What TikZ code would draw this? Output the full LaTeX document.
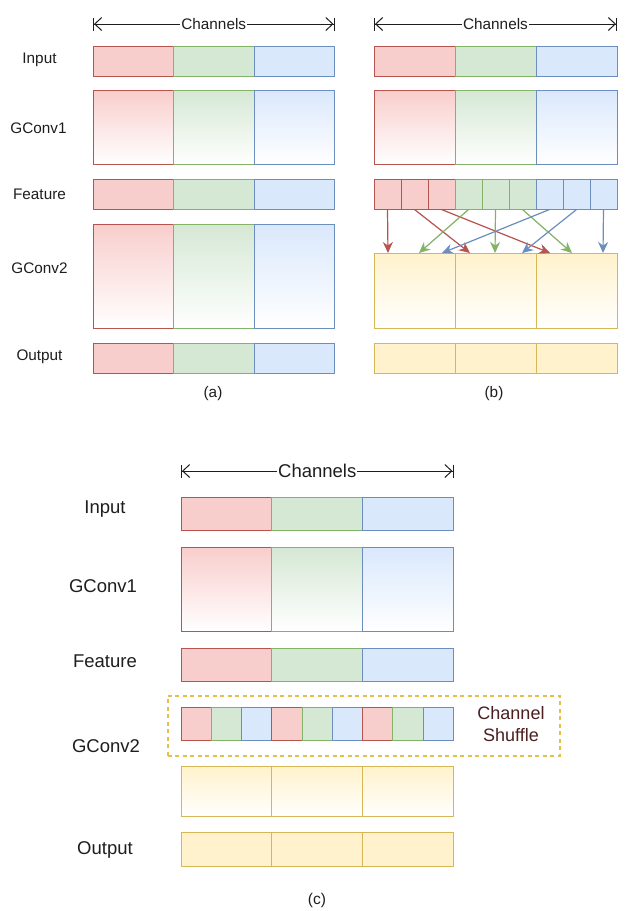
\documentclass[tikz,border=0pt]{standalone}
\usepackage{fontspec}
\setmainfont{Liberation Sans}
\usetikzlibrary{arrows.meta}
\definecolor{rF}{HTML}{F8CECC}\definecolor{rS}{HTML}{B85450}
\definecolor{gF}{HTML}{D5E8D4}\definecolor{gS}{HTML}{82B366}
\definecolor{bF}{HTML}{DAE8FC}\definecolor{bS}{HTML}{6C8EBF}
\definecolor{yF}{HTML}{FFF2CC}\definecolor{yS}{HTML}{D6B656}
\definecolor{yD}{HTML}{E4BF4A}
\definecolor{txt}{HTML}{1E1E1E}
\definecolor{shuf}{HTML}{4A1F1F}
\tikzset{
  cell/.style={draw, line width=1pt, anchor=north west, inner sep=0pt, outer sep=0pt},
  sol/.style={cell, draw=#1S, fill=#1F},
  grad/.style={cell, draw=#1S, top color=#1F, bottom color=white},
  lab/.style={font=\fontsize{15.3}{18}\selectfont, text=txt},
  labc/.style={font=\fontsize{18.5}{21}\selectfont, text=txt},
  chan/.style={line width=1pt, draw=txt,
    {Bar[width=13pt]Straight Barb[length=7pt,width=13pt]}-{Straight Barb[length=7pt,width=13pt]Bar[width=13pt]}},
  sh/.style={line width=1.2pt, draw=#1, -{Stealth[length=11pt,width=10pt]}, fill=#1},
  chanlabel/.style={fill=white, inner sep=1pt},
  shufbox/.style={draw=yD, line width=1.5pt, dash pattern=on 4pt off 3.5pt, anchor=north west, inner sep=0pt},
}
\begin{document}
\begin{tikzpicture}[x=1pt,y=-1pt]
\path[fill=white] (0,0) rectangle (626,911);
\useasboundingbox (0,0) rectangle (626,911);

% ---------------- (a) ----------------
\coordinate (aCL) at (93,24);
\coordinate (aCR) at (334.5,24);
\draw[chan] (aCL) -- (aCR) node[midway, chanlabel, lab] {Channels};
\foreach \c [count=\i from 0] in {r,g,b} {
  \node[sol=\c, minimum width=80.5, minimum height=30] (aIn\c) at (93+\i*80.5, 46) {};
  \node[grad=\c, minimum width=80.5, minimum height=74] (aG1\c) at (93+\i*80.5, 90.5) {};
  \node[sol=\c, minimum width=80.5, minimum height=30] (aFe\c) at (93+\i*80.5, 179.5) {};
  \node[grad=\c, minimum width=80.5, minimum height=104] (aG2\c) at (93+\i*80.5, 224) {};
  \node[sol=\c, minimum width=80.5, minimum height=30] (aOu\c) at (93+\i*80.5, 343) {};
}
\node[lab] (aLin) at (39.5,60) {Input};
\node[lab] (aLg1) at (38.5,128) {GConv1};
\node[lab] (aLfe) at (39.5,194) {Feature};
\node[lab] (aLg2) at (39.5,268) {GConv2};
\node[lab] (aLou) at (39.5,357) {Output};
\node[lab] (aCap) at (213,394) {(a)};

% ---------------- (b) ----------------
\coordinate (bCL) at (374,24);
\coordinate (bCR) at (617,24);
\draw[chan] (bCL) -- (bCR) node[midway, chanlabel, lab] {Channels};
\foreach \c [count=\i from 0] in {r,g,b} {
  \node[sol=\c, minimum width=81, minimum height=30] (bIn\c) at (374+\i*81, 46) {};
  \node[grad=\c, minimum width=81, minimum height=74] (bG1\c) at (374+\i*81, 90.5) {};
  \node[grad=y, minimum width=81, minimum height=75] (bG2\i) at (374+\i*81, 253.5) {};
  \node[sol=y, minimum width=81, minimum height=30] (bOu\i) at (374+\i*81, 343) {};
}
\foreach \c [count=\k from 0] in {r,r,r,g,g,g,b,b,b} {
  \node[sol=\c, minimum width=27, minimum height=30] (bF\k) at (374+\k*27, 179.5) {};
}
\foreach \x [count=\k from 0] in {388,419,442,470,495,522,550,572,603} {
  \coordinate (bT\k) at (\x,253);
}
\draw[sh=rS] (bF0.south) -- (bT0);
\draw[sh=rS] (bF1.south) -- (bT3);
\draw[sh=rS] (bF2.south) -- (bT6);
\draw[sh=gS] (bF3.south) -- (bT1);
\draw[sh=gS] (bF4.south) -- (bT4);
\draw[sh=gS] (bF5.south) -- (bT7);
\draw[sh=bS] (bF6.south) -- (bT2);
\draw[sh=bS] (bF7.south) -- (bT5);
\draw[sh=bS] (bF8.south) -- (bT8);
\node[lab] (bCap) at (494,394) {(b)};

% ---------------- (c) ----------------
\coordinate (cCL) at (181,471);
\coordinate (cCR) at (453.5,471);
\draw[chan] (cCL) -- (cCR) node[midway, chanlabel, labc] {Channels};
\foreach \c [count=\i from 0] in {r,g,b} {
  \node[sol=\c, minimum width=90.8, minimum height=33] (cIn\c) at (181+\i*90.8, 497.5) {};
  \node[grad=\c, minimum width=90.8, minimum height=84] (cG1\c) at (181+\i*90.8, 547.5) {};
  \node[sol=\c, minimum width=90.8, minimum height=33] (cFe\c) at (181+\i*90.8, 648.5) {};
  \node[grad=y, minimum width=90.8, minimum height=50.5] (cG2\i) at (181+\i*90.8, 766) {};
  \node[sol=y, minimum width=90.8, minimum height=34.5] (cOu\i) at (181+\i*90.8, 832) {};
}
\node[shufbox, minimum width=392, minimum height=60] (cBox) at (167,695) {};
\foreach \c [count=\k from 0] in {r,g,b,r,g,b,r,g,b} {
  \node[sol=\c, minimum width=30.27, minimum height=33.5] (cS\k) at (181+\k*30.27, 707) {};
}
\node[font=\fontsize{18}{22}\selectfont, text=shuf, align=center] (cShuf) at (511,724.5) {Channel\\Shuffle};
\node[labc] (cLin) at (105,509) {Input};
\node[labc] (cLg1) at (103,586) {GConv1};
\node[labc] (cLfe) at (105,661) {Feature};
\node[labc] (cLg2) at (106,746) {GConv2};
\node[labc] (cLou) at (105,850) {Output};
\node[font=\fontsize{15.5}{18}\selectfont, text=txt] (cCap) at (317,900) {(c)};
\end{tikzpicture}
\end{document}
